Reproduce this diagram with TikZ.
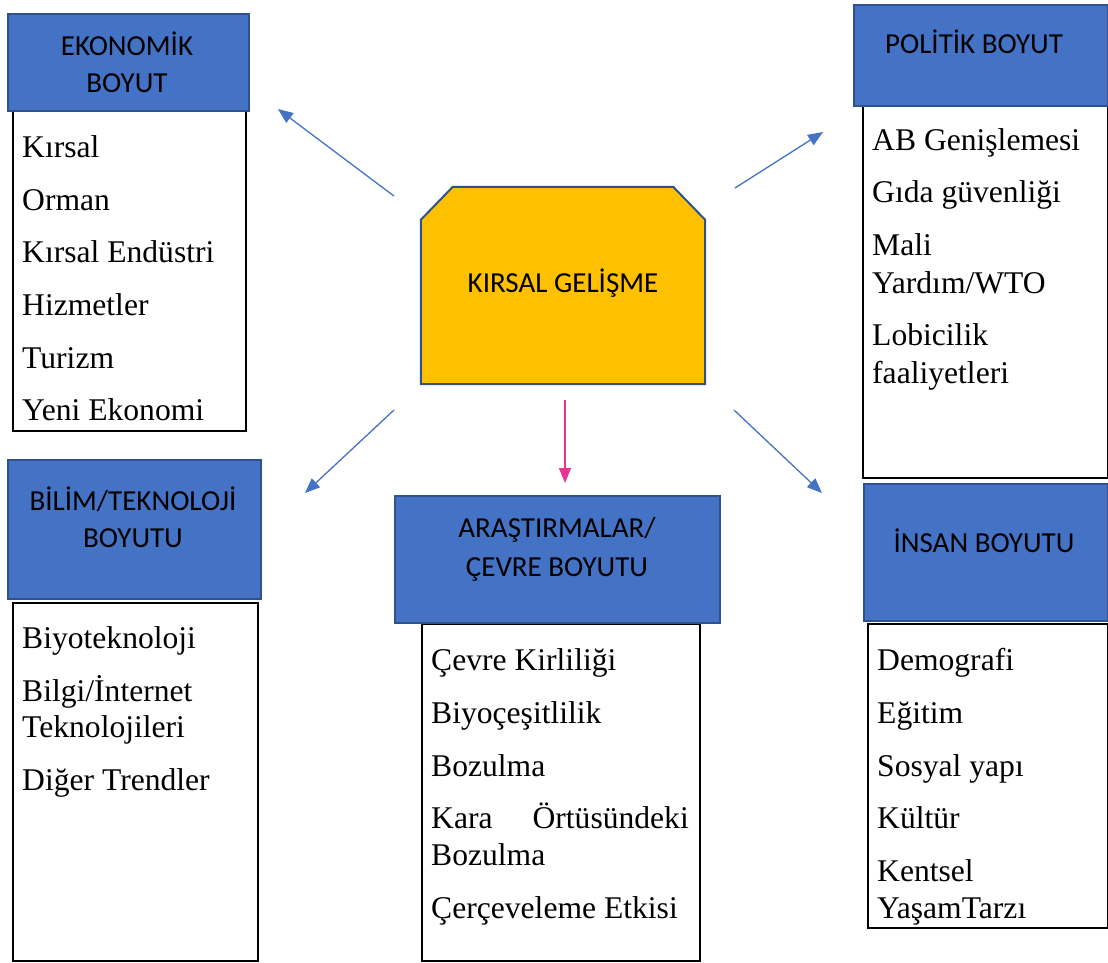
\documentclass[tikz,border=0pt]{standalone}
\usepackage{fontspec}
\setmainfont{Liberation Serif}
\newfontfamily\headfont{Carlito}
\usetikzlibrary{arrows.meta}
\definecolor{hblue}{HTML}{4472C4}
\definecolor{hborder}{HTML}{2F528F}
\definecolor{goldc}{HTML}{FFC000}
\definecolor{pinkc}{HTML}{E83492}
\begin{document}
\begin{tikzpicture}[x=1pt,y=-1pt,
  headbox/.style={draw=hborder, fill=hblue, line width=2pt, inner sep=0pt, anchor=north west},
  listbox/.style={draw=black, line width=2.2pt, fill=white, inner sep=0pt, anchor=north west},
  corebox/.style={draw=hborder, fill=goldc, line width=2pt, line join=miter},
  headtext/.style={font=\headfont\fontsize{29}{35}\selectfont, inner sep=0pt, anchor=base},
  item/.style={font=\fontsize{31.6}{38}\selectfont, inner sep=0pt, anchor=base west},
  link/.style={draw=hblue, line width=1.3pt, -{Triangle[length=15pt,width=12pt]}},
  pinklink/.style={draw=pinkc, line width=1.3pt, -{Triangle[length=15pt,width=12pt]}},
]
\useasboundingbox (0,0) rectangle (1108,962);
\fill[white] (0,0) rectangle (1108,962);

% ---- list boxes
\node[listbox, minimum width=233pt, minimum height=320pt] (ekoL) at (12,110) {};
\node[listbox, minimum width=245pt, minimum height=372pt] (polL) at (862,105) {};
\node[listbox, minimum width=245pt, minimum height=358pt] (bilL) at (12,602) {};
\node[listbox, minimum width=278pt, minimum height=337pt] (arsL) at (421,623) {};
\node[listbox, minimum width=240pt, minimum height=304pt] (insL) at (867,623) {};

% ---- heading boxes
\node[headbox, minimum width=241pt, minimum height=97pt] (ekoH) at (7,13) {};
\node[headbox, minimum width=254pt, minimum height=101pt] (polH) at (853,4) {};
\node[headbox, minimum width=253pt, minimum height=139pt] (bilH) at (7,459) {};
\node[headbox, minimum width=325pt, minimum height=127pt] (arsH) at (394,495) {};
\node[headbox, minimum width=244pt, minimum height=137pt] (insH) at (863,483) {};

% ---- centre (rectangle with chamfered top corners)
\node[minimum width=284pt, minimum height=197pt, inner sep=0pt] (core) at (563,285.5) {};
\draw[corebox] ([yshift=-33pt]core.north west) -- ([xshift=32pt]core.north west)
  -- ([xshift=-32pt]core.north east) -- ([yshift=-33pt]core.north east)
  -- (core.south east) -- (core.south west) -- cycle;
\node[headtext] (coreT) at (563,292) {KIRSAL GELİŞME};

% ---- heading texts
\node[headtext] (ekoT1) at (127,55) {EKONOMİK};
\node[headtext] (ekoT2) at (127,92) {BOYUT};
\node[headtext] (polT) at (974,53) {POLİTİK BOYUT};
\node[headtext] (bilT1) at (133,510) {BİLİM/TEKNOLOJİ};
\node[headtext] (bilT2) at (133,547) {BOYUTU};
\node[headtext] (arsT1) at (557,537) {ARAŞTIRMALAR/};
\node[headtext] (arsT2) at (557,576) {ÇEVRE BOYUTU};
\node[headtext] (insT) at (984,552) {İNSAN BOYUTU};

% ---- items: ekonomik
\node[item] (e1) at (22,157) {Kırsal};
\node[item] (e2) at (22,210) {Orman};
\node[item] (e3) at (22,262) {Kırsal Endüstri};
\node[item] (e4) at (22,315) {Hizmetler};
\node[item] (e5) at (22,368) {Turizm};
\node[item] (e6) at (22,420) {Yeni Ekonomi};

% ---- items: politik
\node[item] (p1) at (872,150) {AB Genişlemesi};
\node[item] (p2) at (872,202) {Gıda güvenliği};
\node[item] (p3) at (872,255) {Mali};
\node[item] (p4) at (872,293) {Yardım/WTO};
\node[item] (p5) at (872,345) {Lobicilik};
\node[item] (p6) at (872,383) {faaliyetleri};

% ---- items: bilim
\node[item] (b1) at (22,648) {Biyoteknoloji};
\node[item] (b2) at (22,701) {Bilgi/İnternet};
\node[item] (b3) at (22,737) {Teknolojileri};
\node[item] (b4) at (22,790) {Diğer Trendler};

% ---- items: arastirma
\node[item] (a1) at (431,670) {Çevre Kirliliği};
\node[item] (a2) at (431,723) {Biyoçeşitlilik};
\node[item] (a3) at (431,776) {Bozulma};
\node[item] (a4) at (431,828) {Kara};
\node[item, anchor=base east] (a4b) at (689,828) {Örtüsündeki};
\node[item] (a5) at (431,865) {Bozulma};
\node[item] (a6) at (431,918) {Çerçeveleme Etkisi};

% ---- items: insan
\node[item] (i1) at (877,670) {Demografi};
\node[item] (i2) at (877,723) {Eğitim};
\node[item] (i3) at (877,776) {Sosyal yapı};
\node[item] (i4) at (877,828) {Kültür};
\node[item] (i5) at (877,881) {Kentsel};
\node[item] (i6) at (877,918) {YaşamTarzı};

% ---- connectors
\coordinate (s1) at (394,196); \coordinate (t1) at (278,109);
\coordinate (s2) at (735,188); \coordinate (t2) at (823,132);
\coordinate (s3) at (394,410); \coordinate (t3) at (305,493);
\coordinate (s4) at (565,400); \coordinate (t4) at (565,483);
\coordinate (s5) at (734,410); \coordinate (t5) at (822,493);
\draw[link] (s1) -- (t1);
\draw[link] (s2) -- (t2);
\draw[link] (s3) -- (t3);
\draw[pinklink] (s4) -- (t4);
\draw[link] (s5) -- (t5);
\end{tikzpicture}
\end{document}
